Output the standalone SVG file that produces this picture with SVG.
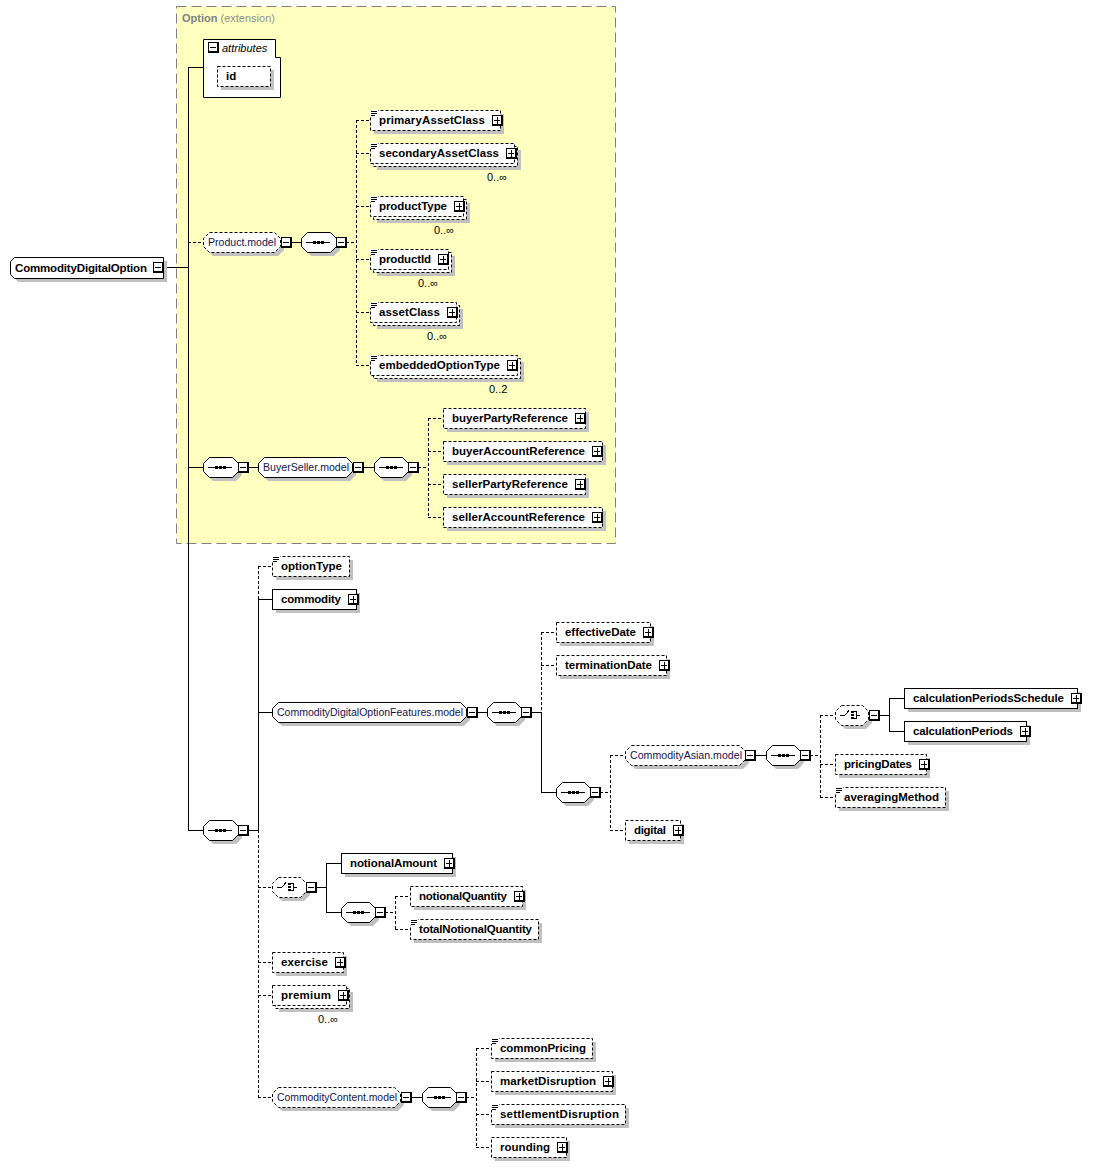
<svg xmlns="http://www.w3.org/2000/svg" xmlns:xlink="http://www.w3.org/1999/xlink" width="1105" height="1167" viewBox="0 0 1105 1167">
<style>
text{font-family:"Liberation Sans",Arial,sans-serif;font-size:11px}
.t{font-weight:bold;fill:#000;font-size:11.5px}
.g{fill:#141450}
.m{fill:#000}
.sh{fill:#c0c0c0;stroke:none}
.b{fill:#fff;stroke:#000;stroke-width:1}
.bo{fill:#fff;stroke:#000;stroke-width:1;stroke-dasharray:3,2}
.c{fill:none;stroke:#000;stroke-width:1}
.cd{fill:none;stroke:#000;stroke-width:1;stroke-dasharray:3,2}
</style>
<defs>
<g id="bm" shape-rendering="crispEdges"><rect width="11" height="11" fill="#000"/><rect x="1" y="1" width="8" height="8" fill="#fff"/><rect x="2" y="5" width="6" height="1" fill="#000"/></g>
<g id="bp" shape-rendering="crispEdges"><rect width="11" height="11" fill="#000"/><rect x="1" y="1" width="8" height="8" fill="#fff"/><rect x="2" y="5" width="6" height="1" fill="#000"/><rect x="5" y="2" width="1" height="7" fill="#000"/></g>
<g id="icon" shape-rendering="crispEdges"><rect x="0" y="0" width="8" height="6" fill="#fff"/><rect x="1" y="1" width="6" height="1" fill="#000"/><rect x="1" y="3" width="6" height="1" fill="#000"/><rect x="1" y="5" width="4" height="1" fill="#000"/></g>
<g id="seqsym" shape-rendering="crispEdges"><rect x="0" y="0" width="24" height="1" fill="#000"/><rect x="7" y="-1" width="3" height="3" fill="#000"/><rect x="11" y="-1" width="3" height="3" fill="#000"/><rect x="15" y="-1" width="3" height="3" fill="#000"/></g>
<g id="chsym" shape-rendering="crispEdges"><path d="M4,0.5H8.5L13,-4.5" fill="none" stroke="#000"/><rect x="15" y="-4" width="3" height="2" fill="#000"/><rect x="15" y="-1" width="3" height="2" fill="#000"/><rect x="15" y="2" width="3" height="2" fill="#000"/><path d="M18,-3.5H20.5V3.5H18M20.5,0.5H24" fill="none" stroke="#000"/></g>
</defs>
<rect x="0" y="0" width="1105" height="1167" fill="#fff"/>
<g id="option-extension">
<rect x="176.5" y="6.5" width="439" height="537" fill="#ffffc0" stroke="#808080" stroke-dasharray="10,5"/>
<text x="182" y="22" fill="#808080"><tspan font-weight="bold">Option</tspan> <tspan fill="#909090">(extension)</tspan></text>
</g>
<g id="connectors">
<path class="c" d="M164,267.5H188M188.5,67V830.5M188,67.5H203M188,467.5H203M188,830.5H203M291,242.5H301M248,467.5H258M363,467.5H374M248,830.5H258M258.5,599V830.5M258,599.5H272M258,712.5H272M477,712.5H487M531,712.5H541M541.5,712V792.5M541,792.5H556M755,755.5H766M879,715.5H889M889.5,698V731.5M889,698.5H904M889,731.5H904M316,887.5H326M326.5,863V912.5M326,863.5H341M326,912.5H341M411,1097.5H422"/>
<path class="cd" d="M188,242.5H203M346,242.5H356M356.5,120V365.5M356,120.5H370M356,153.5H370M356,206.5H370M356,259.5H370M356,312.5H370M356,365.5H370M418,467.5H428M428.5,418V517.5M428,418.5H443M428,451.5H443M428,484.5H443M428,517.5H443M258.5,566V599M258,566.5H272M258.5,830V1097.5M258,887.5H272M258,962.5H272M258,995.5H272M258,1097.5H272M541.5,632V712M541,632.5H556M541,665.5H556M600,792.5H610M610.5,755V830.5M610,755.5H625M610,830.5H625M810,755.5H820M820.5,715V797.5M820,715.5H835M820,764.5H835M820,797.5H835M385,912.5H395M395.5,896V929.5M395,896.5H410M395,929.5H410M466,1097.5H476M476.5,1048V1147.5M476,1048.5H491M476,1081.5H491M476,1114.5H491M476,1147.5H491"/>
</g>
<g id="CommodityDigitalOption">
<path class="sh" d="M18,261H167V282H18L14,277V265Z"/>
<path class="b" d="M14.5,257.5H163.5V278.5H14.5L10.5,274.5V261.5Z"/>
<text class="t" x="15" y="272" textLength="132">CommodityDigitalOption</text>
<use href="#bm" x="153" y="262"/>
</g>
<g id="attributes">
<path class="b" d="M203.5,39.5H275.5V57.5H280.5V97.5H203.5Z"/>
<use href="#bm" x="208" y="42"/>
<text x="222" y="52" font-style="italic" fill="#000">attributes</text>
</g>
<g id="attr-id">
<rect class="sh" x="221" y="70" width="53" height="20"/>
<rect class="bo" x="217.5" y="66.5" width="53" height="20"/>
<text class="t" x="226" y="80">id</text>
</g>
<g id="Product.model">
<path class="sh" d="M213,236H278L284,242V250L278,256H213L207,250V242Z"/>
<path class="bo" d="M209.5,232.5H274.5L280.5,238.5V246.5L274.5,252.5H209.5L203.5,246.5V238.5Z"/>
<text class="g" x="208" y="246" textLength="68" lengthAdjust="spacingAndGlyphs">Product.model</text>
<use href="#bm" x="281" y="237"/>
</g>
<g id="seq-product">
<path class="sh" d="M311,236H334L340,242V250L334,256H311L305,250V242Z"/>
<path class="b" d="M307.5,232.5H330.5L336.5,238.5V246.5L330.5,252.5H307.5L301.5,246.5V238.5Z"/>
<use href="#seqsym" x="306" y="242"/>
<use href="#bm" x="336" y="237"/>
</g>
<g id="primaryAssetClass">
<rect class="sh" x="374" y="114" width="130" height="20"/>
<rect class="bo" x="370.5" y="110.5" width="130" height="20"/>
<use href="#icon" x="370" y="110"/>
<text class="t" x="379" y="124" textLength="106">primaryAssetClass</text>
<use href="#bp" x="492" y="115"/>
</g>
<g id="secondaryAssetClass">
<rect class="sh" x="377" y="150" width="144" height="20"/>
<rect class="bo" x="373.5" y="146.5" width="144" height="20"/>
<rect class="bo" x="370.5" y="143.5" width="144" height="20"/>
<use href="#icon" x="370" y="143"/>
<text class="t" x="379" y="157" textLength="120">secondaryAssetClass</text>
<use href="#bp" x="506" y="148"/>
<text class="m" x="487" y="181">0..∞</text>
</g>
<g id="productType">
<rect class="sh" x="377" y="203" width="93" height="20"/>
<rect class="bo" x="373.5" y="199.5" width="93" height="20"/>
<rect class="bo" x="370.5" y="196.5" width="93" height="20"/>
<use href="#icon" x="370" y="196"/>
<text class="t" x="379" y="210" textLength="68">productType</text>
<use href="#bp" x="454" y="201"/>
<text class="m" x="434" y="234">0..∞</text>
</g>
<g id="productId">
<rect class="sh" x="377" y="256" width="78" height="20"/>
<rect class="bo" x="373.5" y="252.5" width="78" height="20"/>
<rect class="bo" x="370.5" y="249.5" width="78" height="20"/>
<use href="#icon" x="370" y="249"/>
<text class="t" x="379" y="263" textLength="52">productId</text>
<use href="#bp" x="438" y="254"/>
<text class="m" x="418" y="287">0..∞</text>
</g>
<g id="assetClass">
<rect class="sh" x="377" y="309" width="86" height="20"/>
<rect class="bo" x="373.5" y="305.5" width="86" height="20"/>
<rect class="bo" x="370.5" y="302.5" width="86" height="20"/>
<use href="#icon" x="370" y="302"/>
<text class="t" x="379" y="316" textLength="61">assetClass</text>
<use href="#bp" x="447" y="307"/>
<text class="m" x="427" y="340">0..∞</text>
</g>
<g id="embeddedOptionType">
<rect class="sh" x="377" y="362" width="147" height="20"/>
<rect class="bo" x="373.5" y="358.5" width="147" height="20"/>
<rect class="bo" x="370.5" y="355.5" width="147" height="20"/>
<use href="#icon" x="370" y="355"/>
<text class="t" x="379" y="369" textLength="121">embeddedOptionType</text>
<use href="#bp" x="507" y="360"/>
<text class="m" x="489" y="393">0..2</text>
</g>
<g id="seq-buyerseller-outer">
<path class="sh" d="M213,461H236L242,467V475L236,481H213L207,475V467Z"/>
<path class="b" d="M209.5,457.5H232.5L238.5,463.5V471.5L232.5,477.5H209.5L203.5,471.5V463.5Z"/>
<use href="#seqsym" x="208" y="467"/>
<use href="#bm" x="238" y="462"/>
</g>
<g id="BuyerSeller.model">
<path class="sh" d="M268,461H350L356,467V475L350,481H268L262,475V467Z"/>
<path class="b" d="M264.5,457.5H346.5L352.5,463.5V471.5L346.5,477.5H264.5L258.5,471.5V463.5Z"/>
<text class="g" x="263" y="471" textLength="86" lengthAdjust="spacingAndGlyphs">BuyerSeller.model</text>
<use href="#bm" x="353" y="462"/>
</g>
<g id="seq-buyerseller">
<path class="sh" d="M384,461H406L412,467V475L406,481H384L378,475V467Z"/>
<path class="b" d="M380.5,457.5H402.5L408.5,463.5V471.5L402.5,477.5H380.5L374.5,471.5V463.5Z"/>
<use href="#seqsym" x="379" y="467"/>
<use href="#bm" x="408" y="462"/>
</g>
<g id="buyerPartyReference">
<rect class="sh" x="447" y="412" width="142" height="20"/>
<rect class="bo" x="443.5" y="408.5" width="142" height="20"/>
<text class="t" x="452" y="422" textLength="116">buyerPartyReference</text>
<use href="#bp" x="575" y="413"/>
</g>
<g id="buyerAccountReference">
<rect class="sh" x="447" y="445" width="159" height="20"/>
<rect class="bo" x="443.5" y="441.5" width="159" height="20"/>
<text class="t" x="452" y="455" textLength="133">buyerAccountReference</text>
<use href="#bp" x="592" y="446"/>
</g>
<g id="sellerPartyReference">
<rect class="sh" x="447" y="478" width="142" height="20"/>
<rect class="bo" x="443.5" y="474.5" width="142" height="20"/>
<text class="t" x="452" y="488" textLength="116">sellerPartyReference</text>
<use href="#bp" x="575" y="479"/>
</g>
<g id="sellerAccountReference">
<rect class="sh" x="447" y="511" width="159" height="20"/>
<rect class="bo" x="443.5" y="507.5" width="159" height="20"/>
<text class="t" x="452" y="521" textLength="133">sellerAccountReference</text>
<use href="#bp" x="592" y="512"/>
</g>
<g id="seq-main">
<path class="sh" d="M213,824H236L242,830V838L236,844H213L207,838V830Z"/>
<path class="b" d="M209.5,820.5H232.5L238.5,826.5V834.5L232.5,840.5H209.5L203.5,834.5V826.5Z"/>
<use href="#seqsym" x="208" y="830"/>
<use href="#bm" x="238" y="825"/>
</g>
<g id="optionType">
<rect class="sh" x="276" y="560" width="77" height="20"/>
<rect class="bo" x="272.5" y="556.5" width="77" height="20"/>
<use href="#icon" x="272" y="556"/>
<text class="t" x="281" y="570" textLength="61">optionType</text>
</g>
<g id="commodity">
<rect class="sh" x="276" y="593" width="84" height="20"/>
<rect class="b" x="272.5" y="589.5" width="84" height="20"/>
<text class="t" x="281" y="603" textLength="60">commodity</text>
<use href="#bp" x="348" y="594"/>
</g>
<g id="CommodityDigitalOptionFeatures.model">
<path class="sh" d="M282,706H464L470,712V720L464,726H282L276,720V712Z"/>
<path class="b" d="M278.5,702.5H460.5L466.5,708.5V716.5L460.5,722.5H278.5L272.5,716.5V708.5Z"/>
<text class="g" x="277" y="716" textLength="186" lengthAdjust="spacingAndGlyphs">CommodityDigitalOptionFeatures.model</text>
<use href="#bm" x="467" y="707"/>
</g>
<g id="seq-features">
<path class="sh" d="M497,706H519L525,712V720L519,726H497L491,720V712Z"/>
<path class="b" d="M493.5,702.5H515.5L521.5,708.5V716.5L515.5,722.5H493.5L487.5,716.5V708.5Z"/>
<use href="#seqsym" x="492" y="712"/>
<use href="#bm" x="521" y="707"/>
</g>
<g id="effectiveDate">
<rect class="sh" x="560" y="626" width="94" height="20"/>
<rect class="bo" x="556.5" y="622.5" width="94" height="20"/>
<text class="t" x="565" y="636" textLength="71">effectiveDate</text>
<use href="#bp" x="643" y="627"/>
</g>
<g id="terminationDate">
<rect class="sh" x="560" y="659" width="110" height="20"/>
<rect class="bo" x="556.5" y="655.5" width="110" height="20"/>
<text class="t" x="565" y="669" textLength="87">terminationDate</text>
<use href="#bp" x="659" y="660"/>
</g>
<g id="seq-asian-outer">
<path class="sh" d="M566,786H588L594,792V800L588,806H566L560,800V792Z"/>
<path class="b" d="M562.5,782.5H584.5L590.5,788.5V796.5L584.5,802.5H562.5L556.5,796.5V788.5Z"/>
<use href="#seqsym" x="561" y="792"/>
<use href="#bm" x="590" y="787"/>
</g>
<g id="CommodityAsian.model">
<path class="sh" d="M635,749H743L749,755V763L743,769H635L629,763V755Z"/>
<path class="bo" d="M631.5,745.5H739.5L745.5,751.5V759.5L739.5,765.5H631.5L625.5,759.5V751.5Z"/>
<text class="g" x="630" y="759" textLength="112" lengthAdjust="spacingAndGlyphs">CommodityAsian.model</text>
<use href="#bm" x="745" y="750"/>
</g>
<g id="seq-asian">
<path class="sh" d="M776,749H798L804,755V763L798,769H776L770,763V755Z"/>
<path class="b" d="M772.5,745.5H794.5L800.5,751.5V759.5L794.5,765.5H772.5L766.5,759.5V751.5Z"/>
<use href="#seqsym" x="771" y="755"/>
<use href="#bm" x="800" y="750"/>
</g>
<g id="choice-periods">
<path class="sh" d="M845,709H866L872,715V723L866,729H845L839,723V715Z"/>
<path class="bo" d="M841.5,705.5H862.5L868.5,711.5V719.5L862.5,725.5H841.5L835.5,719.5V711.5Z"/>
<use href="#chsym" x="836" y="715"/>
<use href="#bm" x="869" y="710"/>
</g>
<g id="calculationPeriodsSchedule">
<rect class="sh" x="908" y="692" width="173" height="20"/>
<rect class="b" x="904.5" y="688.5" width="173" height="20"/>
<text class="t" x="913" y="702" textLength="151">calculationPeriodsSchedule</text>
<use href="#bp" x="1071" y="693"/>
</g>
<g id="calculationPeriods">
<rect class="sh" x="908" y="725" width="122" height="20"/>
<rect class="b" x="904.5" y="721.5" width="122" height="20"/>
<text class="t" x="913" y="735" textLength="100">calculationPeriods</text>
<use href="#bp" x="1020" y="726"/>
</g>
<g id="pricingDates">
<rect class="sh" x="839" y="758" width="91" height="20"/>
<rect class="bo" x="835.5" y="754.5" width="91" height="20"/>
<text class="t" x="844" y="768" textLength="68">pricingDates</text>
<use href="#bp" x="919" y="759"/>
</g>
<g id="averagingMethod">
<rect class="sh" x="839" y="791" width="110" height="20"/>
<rect class="bo" x="835.5" y="787.5" width="110" height="20"/>
<use href="#icon" x="835" y="787"/>
<text class="t" x="844" y="801" textLength="95">averagingMethod</text>
</g>
<g id="digital">
<rect class="sh" x="629" y="824" width="55" height="20"/>
<rect class="bo" x="625.5" y="820.5" width="55" height="20"/>
<text class="t" x="634" y="834" textLength="32">digital</text>
<use href="#bp" x="673" y="825"/>
</g>
<g id="choice-notional">
<path class="sh" d="M282,881H304L310,887V895L304,901H282L276,895V887Z"/>
<path class="bo" d="M278.5,877.5H300.5L306.5,883.5V891.5L300.5,897.5H278.5L272.5,891.5V883.5Z"/>
<use href="#chsym" x="273" y="887"/>
<use href="#bm" x="306" y="882"/>
</g>
<g id="notionalAmount">
<rect class="sh" x="345" y="857" width="111" height="20"/>
<rect class="b" x="341.5" y="853.5" width="111" height="20"/>
<text class="t" x="350" y="867" textLength="87">notionalAmount</text>
<use href="#bp" x="444" y="858"/>
</g>
<g id="seq-notional">
<path class="sh" d="M351,906H373L379,912V920L373,926H351L345,920V912Z"/>
<path class="b" d="M347.5,902.5H369.5L375.5,908.5V916.5L369.5,922.5H347.5L341.5,916.5V908.5Z"/>
<use href="#seqsym" x="346" y="912"/>
<use href="#bm" x="375" y="907"/>
</g>
<g id="notionalQuantity">
<rect class="sh" x="414" y="890" width="112" height="20"/>
<rect class="bo" x="410.5" y="886.5" width="112" height="20"/>
<text class="t" x="419" y="900" textLength="88">notionalQuantity</text>
<use href="#bp" x="514" y="891"/>
</g>
<g id="totalNotionalQuantity">
<rect class="sh" x="414" y="923" width="128" height="20"/>
<rect class="bo" x="410.5" y="919.5" width="128" height="20"/>
<use href="#icon" x="410" y="919"/>
<text class="t" x="419" y="933" textLength="113">totalNotionalQuantity</text>
</g>
<g id="exercise">
<rect class="sh" x="276" y="956" width="71" height="20"/>
<rect class="bo" x="272.5" y="952.5" width="71" height="20"/>
<text class="t" x="281" y="966" textLength="47">exercise</text>
<use href="#bp" x="335" y="957"/>
</g>
<g id="premium">
<rect class="sh" x="279" y="992" width="74" height="20"/>
<rect class="bo" x="275.5" y="988.5" width="74" height="20"/>
<rect class="bo" x="272.5" y="985.5" width="74" height="20"/>
<text class="t" x="281" y="999" textLength="50">premium</text>
<use href="#bp" x="338" y="990"/>
<text class="m" x="318" y="1023">0..∞</text>
</g>
<g id="CommodityContent.model">
<path class="sh" d="M282,1091H398L404,1097V1105L398,1111H282L276,1105V1097Z"/>
<path class="bo" d="M278.5,1087.5H394.5L400.5,1093.5V1101.5L394.5,1107.5H278.5L272.5,1101.5V1093.5Z"/>
<text class="g" x="277" y="1101" textLength="120" lengthAdjust="spacingAndGlyphs">CommodityContent.model</text>
<use href="#bm" x="401" y="1092"/>
</g>
<g id="seq-content">
<path class="sh" d="M432,1091H454L460,1097V1105L454,1111H432L426,1105V1097Z"/>
<path class="b" d="M428.5,1087.5H450.5L456.5,1093.5V1101.5L450.5,1107.5H428.5L422.5,1101.5V1093.5Z"/>
<use href="#seqsym" x="427" y="1097"/>
<use href="#bm" x="456" y="1092"/>
</g>
<g id="commonPricing">
<rect class="sh" x="495" y="1042" width="101" height="20"/>
<rect class="bo" x="491.5" y="1038.5" width="101" height="20"/>
<use href="#icon" x="491" y="1038"/>
<text class="t" x="500" y="1052" textLength="86">commonPricing</text>
</g>
<g id="marketDisruption">
<rect class="sh" x="495" y="1075" width="121" height="20"/>
<rect class="bo" x="491.5" y="1071.5" width="121" height="20"/>
<text class="t" x="500" y="1085" textLength="96">marketDisruption</text>
<use href="#bp" x="603" y="1076"/>
</g>
<g id="settlementDisruption">
<rect class="sh" x="495" y="1108" width="134" height="20"/>
<rect class="bo" x="491.5" y="1104.5" width="134" height="20"/>
<use href="#icon" x="491" y="1104"/>
<text class="t" x="500" y="1118" textLength="119">settlementDisruption</text>
</g>
<g id="rounding">
<rect class="sh" x="495" y="1141" width="75" height="20"/>
<rect class="bo" x="491.5" y="1137.5" width="75" height="20"/>
<text class="t" x="500" y="1151" textLength="50">rounding</text>
<use href="#bp" x="557" y="1142"/>
</g>
</svg>
